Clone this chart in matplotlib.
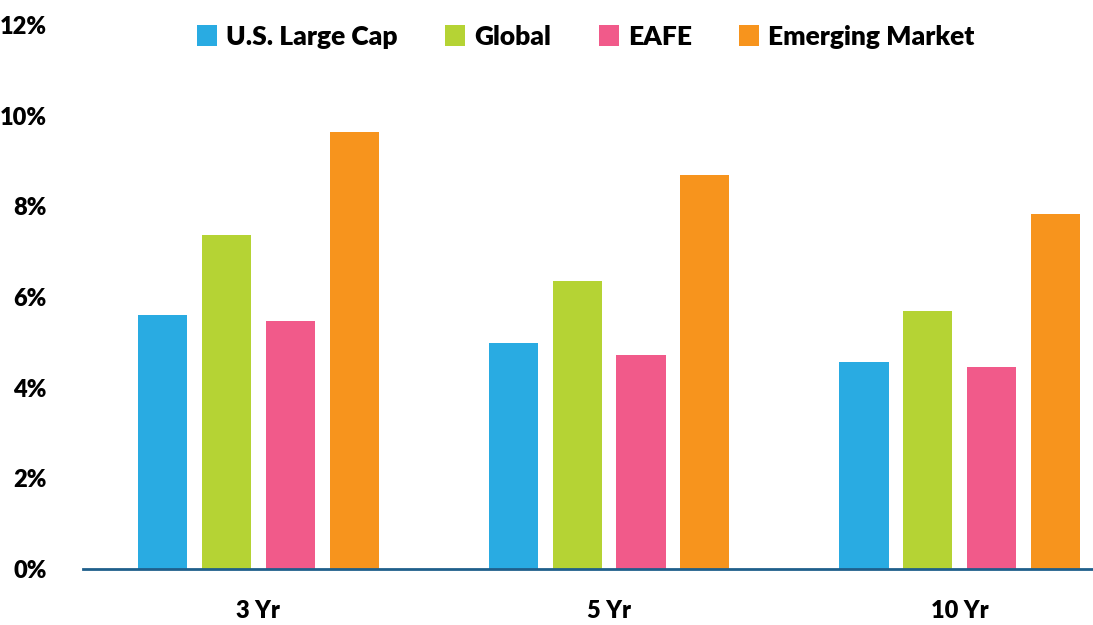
import numpy as np
import matplotlib
matplotlib.use("Agg")
import matplotlib.pyplot as plt

periods = ["3 Yr", "5 Yr", "10 Yr"]
series_names = ["U.S. Large Cap", "Global", "EAFE", "Emerging Market"]
us_large_cap = [5.61, 4.99, 4.57]
global_eq = [7.37, 6.36, 5.70]
eafe = [5.47, 4.72, 4.46]
emerging = [9.65, 8.70, 7.84]
colors = ["#29abe2", "#b5d334", "#f15a8a", "#f7941d"]

plt.rcParams["font.family"] = ["Lato", "DejaVu Sans"]

fig = plt.figure(figsize=(10.93, 6.25), dpi=100)
ax = fig.add_axes([83 / 1093, 56 / 625, 1 - 83 / 1093, 544 / 625])

x = np.arange(len(periods))
width = 0.14
step = 0.182
all_vals = [us_large_cap, global_eq, eafe, emerging]
for i, (name, vals) in enumerate(zip(series_names, all_vals)):
    ax.bar(x + (i - 1.5) * step, vals, width, color=colors[i], label=name)

ax.set_xlim(-0.5, 2.38)
ax.set_ylim(0, 12)
ax.set_yticks(range(0, 13, 2))
ax.set_yticklabels([f"{v}%" for v in range(0, 13, 2)])
ax.set_xticks(x)
ax.set_xticklabels(periods)

for s in ["top", "right", "left"]:
    ax.spines[s].set_visible(False)
ax.spines["bottom"].set_color("#1f5f8b")
ax.spines["bottom"].set_linewidth(2)
ax.tick_params(axis="both", length=0, labelsize=17)
ax.tick_params(axis="x", pad=22)
ax.tick_params(axis="y", pad=26)
for lab in ax.get_xticklabels() + ax.get_yticklabels():
    lab.set_fontweight("heavy")

leg = ax.legend(loc="center", bbox_to_anchor=(586 / 1093, 1 - 37 / 625),
                bbox_transform=fig.transFigure, ncol=4, frameon=False,
                prop={"size": 19, "weight": "heavy"}, handlelength=0.75,
                handleheight=0.85, handletextpad=0.35, columnspacing=1.8)

fig.savefig("out.png", dpi=100)
